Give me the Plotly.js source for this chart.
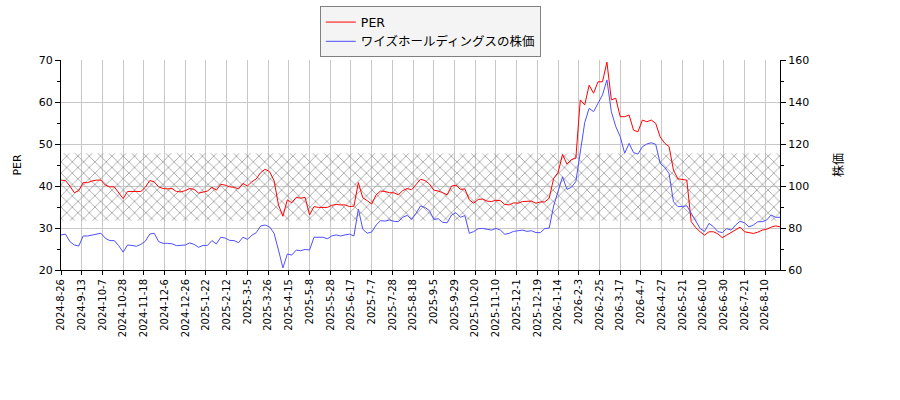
<!DOCTYPE html>
<html>
<head>
<meta charset="utf-8">
<script src="https://cdn.plot.ly/plotly-3.0.1.min.js"></script>
<style>
  html, body { margin: 0; padding: 0; background: #fff; }
  #chart { width: 900px; height: 400px; }
</style>
</head>
<body>
<div id="chart"></div>
<script>
// x axis: trading day index, one value every 3 trading days
const sampleStep = 3;
const lastIndex = 486;

const tickDays = [0, 14, 28, 42, 56, 70, 84, 98, 112, 126, 140, 154, 168, 182, 196, 210, 224,
  238, 252, 266, 280, 294, 308, 322, 336, 350, 364, 378, 392, 406, 420, 434, 448, 462, 476];
const tickLabels = ['2024-8-26', '2024-9-13', '2024-10-7', '2024-10-28', '2024-11-18', '2024-12-6',
  '2024-12-26', '2025-1-22', '2025-2-12', '2025-3-5', '2025-3-26', '2025-4-15', '2025-5-8',
  '2025-5-28', '2025-6-17', '2025-7-7', '2025-7-28', '2025-8-18', '2025-9-5', '2025-9-29',
  '2025-10-20', '2025-11-10', '2025-12-1', '2025-12-19', '2026-1-14', '2026-2-3', '2026-2-25',
  '2026-3-17', '2026-4-7', '2026-4-27', '2026-5-21', '2026-6-10', '2026-6-30', '2026-7-21', '2026-8-10'];

const perValues = [
  41.4, 41.3, 40.0, 38.4, 38.9, 40.8, 40.8, 41.2, 41.4, 41.4,
  40.2, 39.8, 39.8, 38.5, 37.0, 38.7, 38.7, 38.7, 38.7, 39.7,
  41.3, 41.0, 39.8, 39.4, 39.3, 39.4, 38.7, 38.6, 38.9, 39.4,
  39.2, 38.3, 38.5, 38.8, 39.7, 39.0, 40.4, 40.2, 39.8, 39.7,
  39.3, 40.6, 40.0, 41.0, 41.7, 43.2, 44.0, 43.4, 41.3, 35.5,
  32.8, 36.7, 36.0, 37.3, 37.1, 37.3, 33.1, 35.1, 34.9, 34.9,
  34.9, 35.4, 35.6, 35.5, 35.5, 35.1, 35.2, 40.8, 37.2, 36.5,
  35.7, 37.9, 38.8, 38.7, 38.4, 38.4, 37.9, 38.9, 39.4, 39.1,
  40.4, 41.6, 41.3, 40.5, 39.0, 38.8, 38.4, 37.9,
  40.0, 40.2, 39.2, 39.3, 36.7, 35.9, 36.8, 36.9, 36.4, 36.3, 36.6, 36.5,
  35.6, 35.5, 36.0, 35.9, 36.3, 36.3, 36.4, 35.9, 36.2, 36.2,
  37.1, 41.8, 43.2, 47.5, 45.2, 46.3, 46.6, 60.5, 59.3, 64.0,
  62.1, 64.8, 64.8, 69.5, 60.5, 60.9, 56.5, 56.5, 56.9, 53.3,
  52.9, 55.7, 55.3, 55.7, 54.9, 51.7, 50.2, 49.4, 43.8, 41.7,
  41.6, 41.4, 31.5, 30.1, 29.1, 28.3, 29.1, 29.1, 28.6, 27.7,
  28.3, 29.0, 29.5, 30.2, 29.1, 28.9, 28.7, 29.0, 29.5, 29.7,
  30.2, 30.5, 30.3
];

const priceValues = [
  76.7, 77.1, 73.5, 71.9, 71.4, 76.2, 76.2, 76.7, 77.1, 77.5,
  75.1, 74.0, 74.0, 71.6, 68.5, 71.9, 71.7, 71.3, 72.2, 73.7,
  77.1, 77.5, 73.5, 72.7, 72.7, 72.5, 71.6, 71.7, 71.9, 72.9,
  72.2, 70.8, 71.7, 71.7, 74.0, 72.4, 75.6, 75.2, 74.1, 74.0,
  73.0, 75.6, 74.6, 76.5, 77.8, 81.0, 81.4, 80.5, 77.5, 69.5,
  61.0, 67.6, 67.1, 69.5, 69.2, 69.8, 69.5, 75.6, 75.6, 75.6,
  74.9, 76.2, 76.7, 76.2, 76.7, 77.1, 76.2, 89.0, 79.4, 77.5,
  78.1, 81.4, 83.5, 83.3, 83.8, 83.2, 83.0, 85.1, 86.0, 84.1,
  87.0, 90.5, 89.8, 88.3, 84.1, 84.4, 82.7, 82.5,
  86.2, 87.3, 85.1, 85.9, 77.5, 78.3, 79.7, 79.8, 79.4, 79.0, 79.8, 79.0,
  77.0, 77.5, 78.4, 78.7, 79.0, 78.4, 78.7, 77.8, 77.8, 79.7,
  80.0, 90.5, 98.1, 104.4, 98.4, 99.4, 102.1, 117.1, 130.2, 137.0,
  135.4, 139.4, 143.3, 150.5, 135.4, 128.3, 123.5, 115.6, 120.3, 115.9,
  115.2, 118.7, 120.0, 120.6, 119.8, 110.8, 108.9, 106.0, 92.5, 90.2,
  90.2, 90.6, 87.0, 83.5, 79.8, 78.3, 82.2, 80.6, 78.3, 77.8,
  79.7, 79.0, 81.4, 83.2, 82.5, 80.5, 81.4, 83.0, 83.0, 83.8,
  86.2, 85.1, 85.1
];

// PER band (hatched)
const bandLow = 31.7;
const bandHigh = 47.8;

const xs = perValues.map((_, i) => i * sampleStep);
const fontFamily = 'DejaVu Sans, Noto Sans CJK JP, sans-serif';

const traces = [
  {
    x: [0, lastIndex], y: [bandLow, bandLow], mode: 'lines',
    line: { width: 0 }, showlegend: false, hoverinfo: 'skip', yaxis: 'y'
  },
  {
    x: [0, lastIndex], y: [bandHigh, bandHigh], mode: 'lines',
    line: { width: 0 }, fill: 'tonexty', fillcolor: 'rgba(0,0,0,0)',
    fillpattern: { shape: 'x', fgcolor: '#8a8a8a', bgcolor: 'rgba(0,0,0,0)', size: 8, solidity: 0.16 },
    showlegend: false, hoverinfo: 'skip', yaxis: 'y'
  },
  {
    x: xs, y: perValues, mode: 'lines', name: 'PER',
    line: { color: '#ff0000', width: 1 }, yaxis: 'y'
  },
  {
    x: xs, y: priceValues, mode: 'lines', name: 'ワイズホールディングスの株価',
    line: { color: '#4f4fff', width: 1 }, yaxis: 'y2'
  }
];

const layout = {
  width: 900, height: 400,
  margin: { l: 61, r: 120, t: 60, b: 130, autoexpand: false },
  paper_bgcolor: '#ffffff', plot_bgcolor: '#ffffff',
  font: { family: fontFamily, size: 10, color: '#000' },
  showlegend: true,
  legend: {
    x: 0.36, y: 1.255, xanchor: 'left', yanchor: 'top',
    traceorder: 'normal', itemwidth: 30, tracegroupgap: 0,
    bgcolor: '#f4f4f4', bordercolor: '#808080', borderwidth: 1,
    font: { family: fontFamily, size: 12.5 }
  },
  xaxis: {
    range: [0, lastIndex],
    tickvals: tickDays, ticktext: tickLabels, tickangle: -90,
    ticks: 'outside', ticklen: 4, tickcolor: '#000',
    showgrid: true, gridcolor: '#c8c8c8', gridwidth: 1,
    showline: true, linecolor: '#000', linewidth: 1, zeroline: false,
    tickfont: { size: 10 }
  },
  yaxis: {
    range: [20, 70], tick0: 20, dtick: 10,
    ticks: 'outside', ticklen: 5, tickcolor: '#000',
    minor: { dtick: 5, ticks: 'outside', ticklen: 3, tickcolor: '#000', showgrid: false },
    showgrid: true, gridcolor: '#c8c8c8', gridwidth: 1,
    showline: true, linecolor: '#000', linewidth: 1, zeroline: false,
    title: { text: 'PER', font: { size: 11 }, standoff: 14 },
    tickfont: { size: 11 }
  },
  yaxis2: {
    overlaying: 'y', side: 'right',
    range: [60, 160], tick0: 60, dtick: 20,
    ticks: 'outside', ticklen: 5, tickcolor: '#000',
    minor: { dtick: 10, ticks: 'outside', ticklen: 3, tickcolor: '#000', showgrid: false },
    showgrid: false, showline: true, linecolor: '#000', linewidth: 1, zeroline: false,
    title: { text: '株価', font: { size: 12 }, standoff: 26 },
    tickfont: { size: 11 }
  }
};

Plotly.newPlot('chart', traces, layout, { displayModeBar: false, staticPlot: true });
</script>
</body>
</html>
